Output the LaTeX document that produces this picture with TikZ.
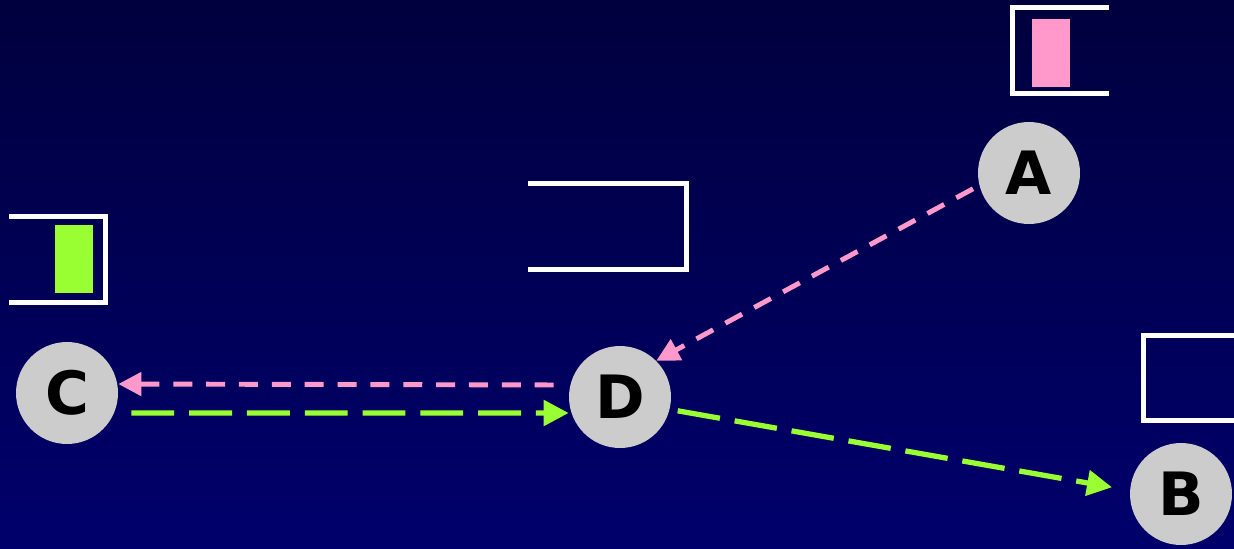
\documentclass[tikz,border=0pt]{standalone}
\usepackage{fontspec}
\setmainfont{DejaVu Sans}
\usetikzlibrary{arrows.meta}
\definecolor{navytop}{HTML}{00003E}
\definecolor{navybot}{HTML}{00006C}
\definecolor{msgpink}{HTML}{FF99CC}
\definecolor{msggreen}{HTML}{99FF33}
\definecolor{hostgray}{HTML}{CCCCCC}
\begin{document}
\begin{tikzpicture}[x=0.02cm,y=-0.02cm,
  host/.style={circle,fill=hostgray,minimum size=2.04cm,inner sep=0pt,font=\fontsize{34}{34}\selectfont\bfseries},
  buf/.style={white,line width=0.1cm},
  pinkmsg/.style={msgpink,line width=2.8pt,dash pattern=on 10.8pt off 7.9pt,-{Triangle[length=0.46cm,width=0.46cm]}},
  greenmsg/.style={msggreen,line width=3pt,dash pattern=on 24.4pt off 8.5pt,-{Triangle[length=0.5cm,width=0.5cm]}}]
\useasboundingbox (0,0) rectangle (1234,548);
\shade[top color=navytop,bottom color=navybot] (0,0) rectangle (1234,548);
\node[host] (a) at (1029,173) {A};
\node[host] (b) at (1181,494) {B};
\node[host] (c) at (67,393) {C};
\node[host] (d) at (620,397) {D};
\draw[buf] (1109,7.5) -- (1012.5,7.5) -- (1012.5,93.5) -- (1109,93.5);
\fill[msgpink] (1032,19) rectangle (1070,87);
\draw[buf] (9,216.5) -- (105.5,216.5) -- (105.5,302) -- (9,302);
\fill[msggreen] (55,225) rectangle (93,293);
\draw[buf] (528,183.5) -- (686.5,183.5) -- (686.5,269.5) -- (528,269.5);
\draw[buf] (1234,335) -- (1143.5,335) -- (1143.5,420) -- (1234,420);
\draw[pinkmsg,shorten <=0.14cm] (a.194) -- (d.45);
\draw[pinkmsg,shorten <=0.3cm] ([yshift=0.24cm]d.west) -- ([yshift=0.18cm]c.east);
\draw[greenmsg,shorten <=0.26cm] ([yshift=-0.4cm]c.east) -- ([yshift=-0.32cm]d.west);
\draw[greenmsg,shorten <=0.16cm,shorten >=0.36cm] (d.-14) -- (b.176);
\end{tikzpicture}
\end{document}
